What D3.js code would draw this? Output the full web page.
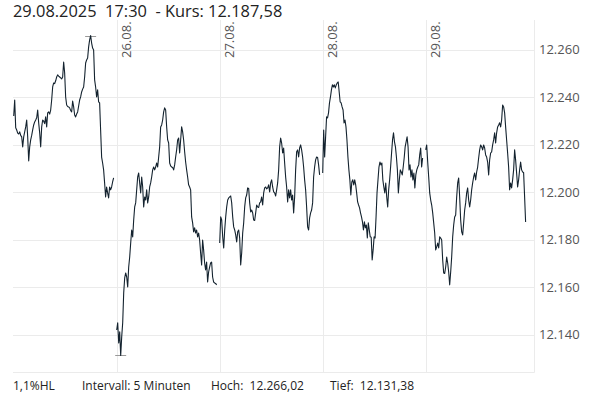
<!DOCTYPE html>
<html>
<head>
<meta charset="utf-8">
<script src="https://cdn.jsdelivr.net/npm/d3@7"></script>
<style>
  html, body { margin: 0; padding: 0; background: #fff; }
  svg { display: block; font-family: "Open Sans", "Noto Sans", sans-serif; }
  text { white-space: pre; }
</style>
</head>
<body>
<svg id="chart" width="606" height="395"></svg>
<script>
// ---- data (5-minute closes, one array per trading day) ----
const dayLabels = ["25.08.", "26.08.", "27.08.", "28.08.", "29.08."];
const lastDate = "29.08.2025";
const lastTime = "17:30";
const interval = "5 Minuten";
const yTicks = [12140, 12160, 12180, 12200, 12220, 12240, 12260];

const kurs25 = [12232.2, 12238.9, 12227.2, 12226.3, 12225.0, 12224.6, 12225.5, 12224.0, 12223.4, 12219.2,
  12223.4, 12225.5, 12227.6, 12230.5, 12223.4, 12213.3, 12219.2, 12222.1, 12224.0, 12226.3,
  12228.4, 12229.7, 12230.5, 12231.4, 12234.7, 12229.3, 12225.1, 12219.2, 12227.6, 12230.5,
  12230.0, 12229.0, 12231.8, 12227.6, 12233.5, 12233.9, 12233.0, 12234.7, 12238.9, 12244.4,
  12246.1, 12245.8, 12247.0, 12248.6, 12249.5, 12249.0, 12248.6, 12248.2, 12247.8, 12248.6,
  12254.9, 12250.3, 12240.2, 12236.8, 12236.2, 12236.0, 12235.6, 12234.5, 12233.9, 12238.5,
  12236.0, 12232.6, 12231.8, 12233.0, 12233.9, 12236.4, 12238.9, 12240.2, 12242.3, 12243.5,
  12244.4, 12248.6, 12254.5, 12255.8, 12256.6, 12261.3, 12264.2, 12266.02, 12262.9, 12260.8,
  12260.0, 12247.4, 12244.4, 12240.2, 12243.2, 12238.1, 12237.7, 12226.3, 12214.9, 12212.4,
  12209.5, 12204.0, 12198.1, 12202.3, 12199.8, 12197.7, 12202.3, 12201.1, 12202.3, 12204.4,
  12206.1];
const kurs26 = [12142.1, 12145.1, 12136.6, 12141.3, 12131.38, 12139.2, 12145.1, 12157.7, 12164.0, 12166.1,
  12164.4, 12160.2, 12168.6, 12172.8, 12178.7, 12184.2, 12181.3, 12188.4, 12193.9, 12195.6,
  12201.1, 12206.5, 12208.2, 12204.0, 12199.8, 12206.5, 12202.3, 12193.9, 12198.1, 12196.8,
  12201.1, 12195.6, 12198.1, 12202.3, 12204.0, 12206.5, 12209.5, 12210.7, 12209.5, 12210.7,
  12212.4, 12210.7, 12214.9, 12219.2, 12227.6, 12228.4, 12230.5, 12233.9, 12235.6, 12234.7,
  12227.6, 12222.1, 12220.8, 12212.4, 12211.2, 12210.7, 12210.5, 12209.5, 12211.6, 12214.9,
  12217.9, 12222.1, 12222.9, 12216.6, 12222.1, 12227.6, 12225.5, 12222.1, 12217.1, 12212.8,
  12209.5, 12206.5, 12203.2, 12202.3, 12201.1, 12189.7, 12187.2, 12183.4, 12185.1, 12182.9,
  12184.2, 12181.3, 12182.9, 12180.0, 12174.5, 12169.5, 12180.0, 12175.8, 12170.3, 12167.4,
  12170.7, 12162.3, 12166.5, 12168.6, 12170.3, 12170.7, 12164.4, 12162.3, 12161.9, 12161.7,
  12161.1];
const kurs27 = [12178.7, 12189.7, 12188.4, 12181.3, 12176.6, 12184.2, 12189.7, 12193.9, 12196.8, 12197.7,
  12198.1, 12198.5, 12195.6, 12189.7, 12185.5, 12184.2, 12182.1, 12179.2, 12183.4, 12184.2,
  12180.8, 12169.5, 12174.5, 12182.9, 12187.2, 12193.9, 12197.7, 12198.9, 12201.9, 12201.7,
  12195.6, 12191.8, 12192.6, 12191.4, 12188.4, 12188.2, 12191.4, 12194.7, 12193.9, 12193.7,
  12195.6, 12196.0, 12198.1, 12194.7, 12199.8, 12201.9, 12202.3, 12201.5, 12201.9, 12203.2,
  12200.2, 12204.0, 12205.3, 12202.3, 12200.2, 12199.8, 12198.5, 12201.1, 12204.0, 12209.5,
  12219.2, 12222.9, 12220.8, 12216.6, 12218.7, 12212.4, 12206.5, 12202.3, 12196.0, 12201.1,
  12197.7, 12201.1, 12196.8, 12198.9, 12191.4, 12198.1, 12209.5, 12217.1, 12217.9, 12214.9,
  12218.7, 12220.0, 12217.9, 12214.9, 12210.7, 12205.3, 12201.1, 12193.9, 12185.5, 12184.2,
  12189.3, 12191.4, 12192.6, 12195.6, 12206.5, 12210.7, 12213.7, 12214.9, 12214.7, 12211.6,
  12207.4];
const kurs28 = [12208.2, 12226.3, 12214.9, 12223.4, 12231.8, 12231.4, 12233.5, 12237.7, 12240.2, 12243.2,
  12245.3, 12244.4, 12245.3, 12244.0, 12245.3, 12246.1, 12246.5, 12242.3, 12238.1, 12237.7,
  12236.0, 12234.7, 12229.3, 12230.5, 12227.6, 12222.1, 12214.9, 12209.5, 12205.3, 12198.9,
  12204.4, 12205.3, 12203.2, 12205.3, 12203.2, 12199.8, 12196.0, 12194.7, 12193.5, 12191.4,
  12189.7, 12187.6, 12184.2, 12187.6, 12185.1, 12186.3, 12180.8, 12187.2, 12184.2, 12181.3,
  12181.1, 12171.6, 12175.8, 12181.3, 12180.8, 12189.7, 12199.8, 12205.3, 12210.7, 12212.8,
  12211.6, 12212.4, 12205.3, 12202.3, 12199.8, 12204.0, 12198.1, 12193.9, 12201.1, 12205.3,
  12210.7, 12216.6, 12222.1, 12225.1, 12221.3, 12219.2, 12214.9, 12209.5, 12199.8, 12205.3,
  12209.5, 12208.6, 12207.4, 12210.7, 12214.5, 12219.2, 12221.3, 12223.4, 12219.2, 12209.5,
  12211.6, 12206.5, 12209.5, 12205.3, 12208.2, 12201.9, 12207.4, 12209.5, 12210.7, 12211.6,
  12215.8, 12218.7, 12210.7, 12214.5];
const kurs29 = [12217.9, 12220.0, 12212.8, 12206.5, 12199.8, 12196.8, 12194.7, 12191.4, 12187.2, 12182.9,
  12175.8, 12177.1, 12178.7, 12176.6, 12181.3, 12180.8, 12180.0, 12171.6, 12166.1, 12165.9,
  12168.6, 12172.8, 12170.3, 12166.5, 12161.1, 12166.5, 12172.8, 12181.3, 12186.3, 12189.7,
  12190.5, 12198.1, 12204.0, 12206.1, 12198.1, 12188.4, 12183.4, 12182.1, 12187.2, 12192.6,
  12195.6, 12199.8, 12201.9, 12196.8, 12193.9, 12196.8, 12201.1, 12204.0, 12206.5, 12208.2,
  12205.3, 12208.6, 12210.7, 12214.5, 12217.9, 12220.0, 12219.2, 12217.9, 12220.0, 12218.7,
  12215.8, 12214.9, 12212.8, 12207.4, 12213.7, 12216.6, 12217.1, 12220.0, 12222.1, 12225.1,
  12220.8, 12225.1, 12227.6, 12228.4, 12229.3, 12227.6, 12230.5, 12236.8, 12236.0, 12233.5,
  12227.6, 12222.1, 12216.6, 12210.7, 12201.1, 12204.0, 12201.9, 12205.3, 12209.5, 12217.9,
  12213.7, 12208.2, 12202.3, 12205.3, 12209.5, 12212.8, 12209.5, 12208.6, 12208.4, 12198.1,
  12187.58];

const sessions = [kurs25, kurs26, kurs27, kurs28, kurs29];

// ---- layout ----
const plot = { left: 13, right: 534, top: 20, bottom: 372 };
const sessionSpan = 0.97; // share of a day slot covered by trading hours

const de = d3.formatLocale({ decimal: ",", thousands: ".", grouping: [3], currency: ["", "€"] });
const fTick = de.format(",.0f");
const fPrice = de.format(",.2f");
const fPct = de.format(".1f");

const svg = d3.select("#chart");

const x = d3.scaleLinear().domain([0, sessions.length]).range([13.7, 528.7]);
const y = d3.scaleLinear().domain([12124.4, 12272.6]).range([plot.bottom, plot.top]);

const series = sessions.map((vals, d) =>
  vals.map((v, i) => ({ t: d + sessionSpan * i / (vals.length - 1), v })));
const all = series.flat();

const crisp = v => Math.round(v) + 0.5;

// grid
const grid = svg.append("g").attr("stroke", "#ebebeb").attr("stroke-width", 1).attr("fill", "none");
grid.selectAll("line.h").data(yTicks).join("line")
  .attr("x1", plot.left).attr("x2", plot.right)
  .attr("y1", d => crisp(y(d))).attr("y2", d => crisp(y(d)));
grid.selectAll("line.v").data(d3.range(1, sessions.length)).join("line")
  .attr("x1", d => crisp(x(d))).attr("x2", d => crisp(x(d)))
  .attr("y1", plot.top).attr("y2", plot.bottom);
grid.append("line").attr("x1", crisp(plot.right)).attr("x2", crisp(plot.right))
  .attr("y1", plot.top).attr("y2", crisp(plot.bottom));
grid.append("line").attr("x1", plot.left).attr("x2", crisp(plot.right))
  .attr("y1", crisp(plot.bottom)).attr("y2", crisp(plot.bottom));

// day labels (rotated)
svg.append("g").selectAll("text").data(d3.range(1, sessions.length)).join("text")
  .attr("transform", d => `translate(${crisp(x(d)) + 13},58) rotate(-90)`)
  .attr("font-size", 13).attr("fill", "#555")
  .text(d => dayLabels[d]);

// y axis labels (right)
svg.append("g").selectAll("text").data(yTicks).join("text")
  .attr("x", 539).attr("y", d => y(d)).attr("dy", "0.35em")
  .attr("font-size", 13).attr("fill", "#555")
  .text(d => fTick(d));

// high / low markers
const hi = d3.greatest(all, d => d.v);
const lo = d3.least(all, d => d.v);
svg.append("g").attr("stroke", "#999").attr("stroke-width", 1)
  .selectAll("line").data([hi, lo]).join("line")
  .attr("x1", d => x(d.t) - 5.5).attr("x2", d => x(d.t) + 5.5)
  .attr("y1", d => crisp(y(d.v))).attr("y2", d => crisp(y(d.v)));

// price line, one path per trading day
const line = d3.line().x(d => x(d.t)).y(d => y(d.v));
svg.append("g").selectAll("path").data(series).join("path")
  .attr("d", line).attr("fill", "none")
  .attr("stroke", "#14232f").attr("stroke-width", 1.1).attr("stroke-linejoin", "round");

// title
const last = kurs29[kurs29.length - 1];
svg.append("text").attr("x", 13).attr("y", 17)
  .attr("font-size", 16.4).attr("fill", "#222")
  .text(`${lastDate}  ${lastTime}  - Kurs: ${fPrice(last)}`);

// footer
const hl = (hi.v - lo.v) / lo.v * 100;
const footer = [
  { x: 13, s: `${fPct(hl)}%HL` },
  { x: 82, s: `Intervall: ${interval}` },
  { x: 211, s: `Hoch:  ${fPrice(hi.v)}` },
  { x: 330, s: `Tief:  ${fPrice(lo.v)}` }
];
svg.append("g").selectAll("text").data(footer).join("text")
  .attr("x", d => d.x).attr("y", 390)
  .attr("font-size", 12).attr("fill", "#222")
  .text(d => d.s);
</script>
</body>
</html>
